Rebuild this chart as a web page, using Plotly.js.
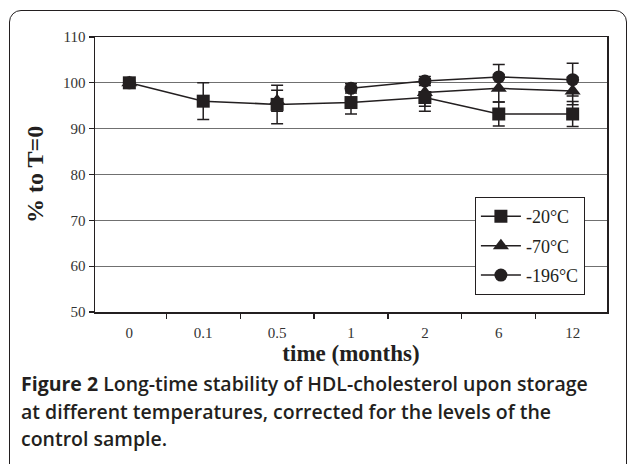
<!DOCTYPE html>
<html>
<head>
<meta charset="utf-8">
<script src="https://cdn.plot.ly/plotly-3.0.1.min.js"></script>
<style>
  html, body { margin: 0; padding: 0; background: #fff; }
  #wrap { position: relative; width: 629px; height: 464px; overflow: hidden; }
  #frame { position: absolute; left: 9px; top: 10px; width: 618px; height: 480px;
           border: 1.5px solid #231f20; border-radius: 12px; box-sizing: border-box; }
  #chart { position: absolute; left: 0; top: 0; width: 629px; height: 464px; }
  #caption { position: absolute; left: 21px; top: 370px; width: 600px;
             font-family: "Open Sans", "Noto Sans", sans-serif; font-size: 19.5px;
             line-height: 27.5px; color: #231f20; font-weight: 600; white-space: nowrap; }
  #caption b { font-weight: 700; }
</style>
</head>
<body>
<div id="wrap">
  <div id="frame"></div>
  <div id="chart"></div>
  <div id="caption"><b>Figure 2</b> Long-time stability of HDL-cholesterol upon storage<br>at different temperatures, corrected for the levels of the<br>control sample.</div>
</div>
<script>
const categories = ['0', '0.1', '0.5', '1', '2', '6', '12'];
const seriesNames = ['-20°C', '-70°C', '-196°C'];
const values20 = [100, 96.0, 95.3, 95.7, 96.8, 93.2, 93.2];
const errors20 = [0, 4.0, 4.2, 2.5, 3.0, 2.6, 2.7];
const values70 = [100, null, 96.1, null, 97.9, 98.8, 98.2];
const errors70 = [0, 0, 2.3, 0, 3.0, 3.0, 3.0];
const values196 = [100, null, null, 98.8, 100.4, 101.3, 100.7];
const errors196 = [0, 0, 0, 1.0, 1.0, 2.7, 3.6];
const yTickValues = [50, 60, 70, 80, 90, 100, 110];

const ink = '#231f20';
function makeTrace(name, y, err, symbol, size, rank) {
  return {
    type: 'scatter', mode: 'lines+markers', name: name,
    x: categories, y: y, legendgroup: name, legendrank: rank,
    connectgaps: false,
    line: { color: ink, width: 1.5 },
    marker: { symbol: symbol, size: size, color: ink, line: { width: 0 } },
    error_y: { type: 'data', array: err, visible: true, color: ink, thickness: 1.5, width: 6 }
  };
}
const data = [
  makeTrace(seriesNames[2], values196, errors196, 'circle', 13, 3),
  makeTrace(seriesNames[1], values70, errors70, 'triangle-up', 14, 2),
  makeTrace(seriesNames[0], values20, errors20, 'square', 13, 1)
];
const serif = 'Liberation Serif, Times New Roman, serif';
const layout = {
  width: 629, height: 464,
  margin: { l: 95, r: 22, t: 37, b: 152 },
  paper_bgcolor: 'rgba(0,0,0,0)', plot_bgcolor: '#fff',
  showlegend: true,
  legend: {
    x: 0.742, y: 0.418, xanchor: 'left', yanchor: 'top',
    traceorder: 'grouped', tracegroupgap: 3, itemwidth: 40,
    bordercolor: ink, borderwidth: 1, bgcolor: '#fff',
    font: { family: serif, size: 18, color: ink }
  },
  xaxis: {
    type: 'category', tickson: 'boundaries', ticks: 'outside', ticklen: 5,
    tickcolor: ink, tickwidth: 1.2, showgrid: false, ticklabelstandoff: 6,
    showline: true, linecolor: ink, linewidth: 1.5, mirror: true,
    tickfont: { family: serif, size: 15, color: '#333' },
    title: { text: '<b>time (months)</b>', font: { family: serif, size: 23, color: ink }, standoff: 5 }
  },
  yaxis: {
    range: [50, 110], tickvals: yTickValues, ticks: 'outside', ticklen: 5,
    tickcolor: ink, tickwidth: 1.2,
    showgrid: true, gridcolor: '#707070', gridwidth: 1,
    showline: true, linecolor: ink, linewidth: 1.5, mirror: true, zeroline: false,
    tickfont: { family: serif, size: 15, color: '#333' },
    title: { text: '<b>% to T=0</b>', font: { family: serif, size: 24, color: ink }, standoff: 12 }
  }
};
Plotly.newPlot('chart', data, layout, { displayModeBar: false, staticPlot: true });
</script>
</body>
</html>
